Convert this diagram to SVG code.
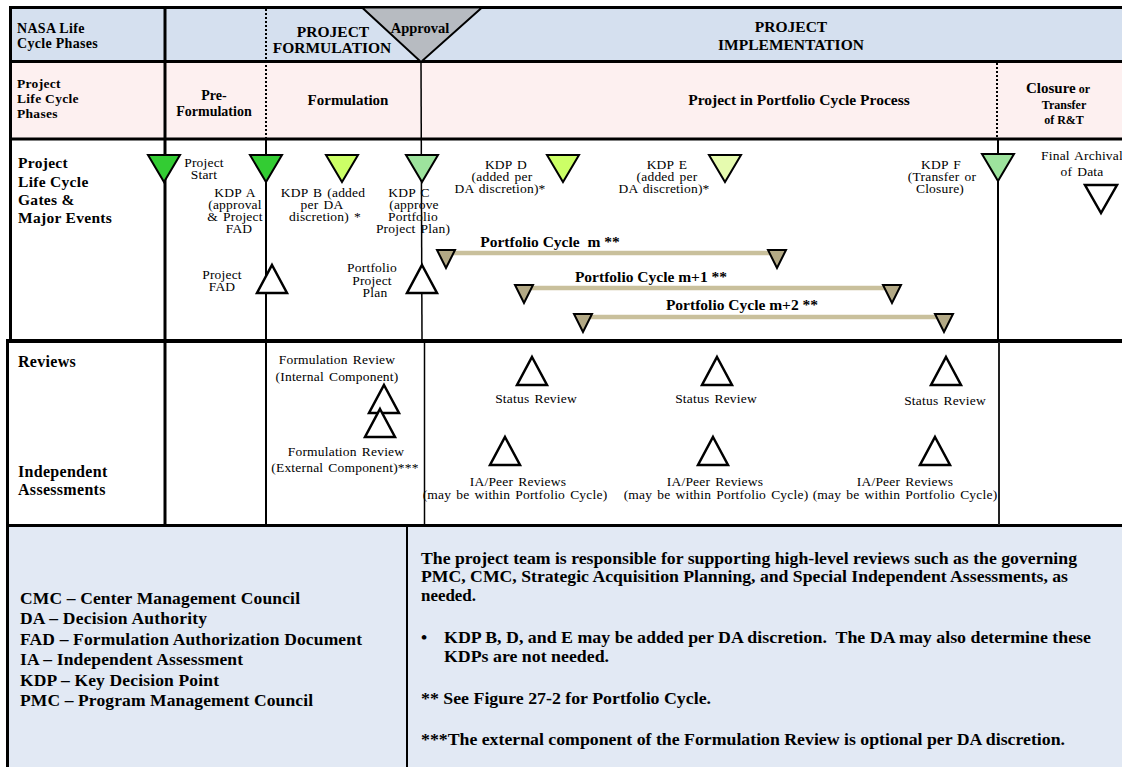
<svg xmlns="http://www.w3.org/2000/svg" width="1122" height="767" viewBox="0 0 1122 767">
  <style>
    text { font-family: "Liberation Serif", "Times New Roman", Tinos, "Nimbus Roman", "Noto Serif", serif; fill: #000; }
    .b { font-weight: bold; }
    .r { font-size: 13.5px; letter-spacing: 0.2px; word-spacing: 1.5px; }
    .c { text-anchor: middle; }
    .thick { stroke: #000; stroke-width: 3; fill: none; }
    .mid { stroke: #000; stroke-width: 2; fill: none; }
    .thin { stroke: #000; stroke-width: 1.5; fill: none; }
    .dot { stroke: #000; stroke-width: 2; stroke-dasharray: 2 2; fill: none; }
    .kdp { stroke: #000; stroke-width: 2; stroke-linejoin: miter; }
    .open { fill: #fff; stroke: #000; stroke-width: 2.5; stroke-linejoin: miter; }
    .pc { fill: #b3a985; stroke: #000; stroke-width: 2; stroke-linejoin: miter; }
    .bar { stroke: #c9c09c; stroke-width: 4.5; }
    .leg { font-size: 17.5px; }
  </style>
  <defs>
    <!-- gate marker: downward triangle, top edge centred on the origin -->
    <path id="gate" d="M-16,0 L16,0 L0,27 Z"/>
    <!-- review / event marker: upward triangle, apex on the origin -->
    <path id="event" d="M0,0 L15,28 L-15,28 Z"/>
    <!-- portfolio cycle end marker -->
    <path id="cycleEnd" d="M-9,0 L9,0 L0,18 Z"/>
  </defs>

  <rect width="1122" height="767" fill="#fff"/>

  <!-- band fills -->
  <g id="bands">
    <rect x="10" y="7" width="1112" height="55" fill="#d5e0ef"/>
    <rect x="10" y="62" width="1112" height="77" fill="#fdf0f0"/>
    <rect x="7" y="526" width="1115" height="241" fill="#e2e9f4"/>
  </g>

  <!-- table rules and phase boundaries -->
  <g id="grid">
    <line class="thick" x1="9" y1="7.5" x2="1122" y2="7.5"/>
    <line class="thick" x1="9" y1="61.5" x2="1122" y2="61.5"/>
    <line class="thick" x1="9" y1="139" x2="1122" y2="139"/>
    <line stroke="#000" stroke-width="4" x1="6" y1="341" x2="1122" y2="341"/>
    <line class="thick" x1="6" y1="525.5" x2="1122" y2="525.5"/>
    <line class="thick" x1="10.5" y1="6" x2="10.5" y2="341"/>
    <line class="thick" x1="7.5" y1="341" x2="7.5" y2="767"/>
    <line class="thick" x1="165" y1="6" x2="165" y2="525"/>
    <line class="dot" x1="266" y1="9" x2="266" y2="138"/>
    <line class="mid" x1="266" y1="140" x2="266" y2="525"/>
    <line class="thin" x1="421" y1="62" x2="422" y2="340"/>
    <line class="thin" x1="424.5" y1="342" x2="424.5" y2="525"/>
    <line class="dot" x1="997" y1="63" x2="997" y2="138"/>
    <line class="mid" x1="998" y1="140" x2="998" y2="340"/>
    <line stroke="#222" stroke-width="2" x1="999" y1="342" x2="999" y2="525"/>
    <line class="mid" x1="407" y1="526" x2="407" y2="767"/>
  </g>

  <!-- NASA life cycle phases header row -->
  <g id="nasa-phases">
    <text class="b" font-size="14" letter-spacing="0.3"><tspan x="17" y="33">NASA Life</tspan><tspan x="17" y="48">Cycle Phases</tspan></text>
    <text class="b c" font-size="15.5" x="333" y="37">PROJECT</text>
    <text class="b c" font-size="15.5" x="332" y="53">FORMULATION</text>
    <text class="b c" font-size="15.5"><tspan x="791" y="32">PROJECT</tspan><tspan x="791" y="50">IMPLEMENTATION</tspan></text>
  </g>

  <g id="approval">
    <path d="M362,7.5 L482,7.5 L421,62 Z" fill="#b7bbc1" stroke="#000" stroke-width="2"/>
    <text class="b c" font-size="14.5" x="420" y="33">Approval</text>
  </g>

  <!-- project life cycle phases row -->
  <g id="project-phases">
    <text class="b" font-size="13.5" letter-spacing="0.3"><tspan x="17" y="88">Project</tspan><tspan x="17" y="103">Life Cycle</tspan><tspan x="17" y="118">Phases</tspan></text>
    <text class="b c" font-size="14"><tspan x="214" y="100">Pre-</tspan><tspan x="214" y="116">Formulation</tspan></text>
    <text class="b c" font-size="15" x="348" y="105">Formulation</text>
    <text class="b c" font-size="15.5" x="799" y="105">Project in Portfolio Cycle Process</text>
    <text class="b c" font-size="15" x="1058" y="93">Closure<tspan font-size="12"> or</tspan></text>
    <text class="b c" font-size="12"><tspan x="1064" y="109">Transfer</tspan><tspan x="1064" y="124">of R&amp;T</tspan></text>
  </g>

  <!-- gates and major events row -->
  <g id="gates-label">
    <text class="b" font-size="15.5" letter-spacing="0.3"><tspan x="18" y="168">Project</tspan><tspan x="18" y="187">Life Cycle</tspan><tspan x="18" y="205">Gates &amp;</tspan><tspan x="18" y="223">Major Events</tspan></text>
  </g>

  <g id="project-start">
    <use href="#gate" x="164" y="155" class="kdp" fill="#33cc33"/>
    <text class="r c"><tspan x="204" y="167">Project</tspan><tspan x="204" y="179">Start</tspan></text>
  </g>

  <g id="kdp-a">
    <use href="#gate" x="266" y="155" class="kdp" fill="#33cc33"/>
    <text class="r c"><tspan x="235" y="197">KDP A</tspan><tspan x="235" y="209">(approval</tspan><tspan x="235" y="221">&amp; Project</tspan><tspan x="239" y="233">FAD</tspan></text>
  </g>

  <g id="kdp-b">
    <use href="#gate" x="342" y="155" class="kdp" fill="#ccff66"/>
    <text class="r c"><tspan x="323" y="197">KDP B (added</tspan><tspan x="322" y="209">per DA</tspan><tspan x="325" y="221">discretion) *</tspan></text>
  </g>

  <g id="kdp-c">
    <use href="#gate" x="422" y="155" class="kdp" fill="#9de39d"/>
    <text class="r c"><tspan x="409" y="197">KDP C</tspan><tspan x="414" y="209">(approve</tspan><tspan x="413" y="221">Portfolio</tspan><tspan x="413" y="233">Project Plan)</tspan></text>
  </g>

  <g id="kdp-d">
    <use href="#gate" x="563" y="155" class="kdp" fill="#ccff66"/>
    <text class="r c"><tspan x="506" y="169">KDP D</tspan><tspan x="502" y="181">(added per</tspan><tspan x="500" y="193">DA discretion)*</tspan></text>
  </g>

  <g id="kdp-e">
    <use href="#gate" x="725" y="155" class="kdp" fill="#e6fbaf"/>
    <text class="r c"><tspan x="667" y="169">KDP E</tspan><tspan x="667" y="181">(added per</tspan><tspan x="664" y="193">DA discretion)*</tspan></text>
  </g>

  <g id="kdp-f">
    <use href="#gate" x="998" y="154" class="kdp" fill="#9de39d"/>
    <text class="r c"><tspan x="941" y="169">KDP F</tspan><tspan x="942" y="181">(Transfer or</tspan><tspan x="940" y="193">Closure)</tspan></text>
  </g>

  <g id="final-archival">
    <path d="M1085,185 L1117,185 L1101,213 Z" class="open"/>
    <text class="r c"><tspan x="1082" y="160">Final Archival</tspan><tspan x="1082" y="176">of Data</tspan></text>
  </g>

  <g id="project-fad">
    <use href="#event" x="272" y="265" class="open"/>
    <text class="r c"><tspan x="222" y="279">Project</tspan><tspan x="222" y="291">FAD</tspan></text>
  </g>

  <g id="portfolio-project-plan">
    <use href="#event" x="422" y="265" class="open"/>
    <text class="r c"><tspan x="372" y="272">Portfolio</tspan><tspan x="372" y="285">Project</tspan><tspan x="375" y="297">Plan</tspan></text>
  </g>

  <!-- portfolio cycles -->
  <g id="connectors">
    <line class="bar" x1="446" y1="253" x2="777" y2="253"/>
    <line class="bar" x1="524" y1="288" x2="892" y2="288"/>
    <line class="bar" x1="583" y1="317" x2="944" y2="317"/>
  </g>

  <g id="cycle-m">
    <use href="#cycleEnd" x="446" y="250" class="pc"/>
    <use href="#cycleEnd" x="777" y="250" class="pc"/>
    <text class="b c" font-size="15.5" x="550" y="247" xml:space="preserve">Portfolio Cycle  m **</text>
  </g>

  <g id="cycle-m1">
    <use href="#cycleEnd" x="524" y="285" class="pc"/>
    <use href="#cycleEnd" x="892" y="285" class="pc"/>
    <text class="b c" font-size="15.5" x="651" y="282">Portfolio Cycle m+1 **</text>
  </g>

  <g id="cycle-m2">
    <use href="#cycleEnd" x="583" y="314" class="pc"/>
    <use href="#cycleEnd" x="944" y="314" class="pc"/>
    <text class="b c" font-size="15.5" x="742" y="310">Portfolio Cycle m+2 **</text>
  </g>

  <!-- reviews and independent assessments rows -->
  <g id="reviews-label">
    <text class="b" font-size="16" letter-spacing="0.3" x="18" y="367">Reviews</text>
    <text class="b" font-size="16" letter-spacing="0.3"><tspan x="18" y="477">Independent</tspan><tspan x="18" y="495">Assessments</tspan></text>
  </g>

  <g id="formulation-review-internal">
    <use href="#event" x="384" y="385" class="open"/>
    <text class="r c" word-spacing="3"><tspan x="337" y="364">Formulation Review</tspan><tspan x="337" y="381">(Internal Component)</tspan></text>
  </g>

  <g id="formulation-review-external">
    <use href="#event" x="380" y="409" class="open"/>
    <text class="r c" word-spacing="3"><tspan x="346" y="456">Formulation Review</tspan><tspan x="345" y="472">(External Component)***</tspan></text>
  </g>

  <g id="status-review-1">
    <use href="#event" x="532" y="357" class="open"/>
    <text class="r c" x="536" y="403">Status Review</text>
  </g>
  <g id="status-review-2">
    <use href="#event" x="717" y="357" class="open"/>
    <text class="r c" x="716" y="403">Status Review</text>
  </g>
  <g id="status-review-3">
    <use href="#event" x="946" y="357" class="open"/>
    <text class="r c" x="945" y="405">Status Review</text>
  </g>

  <g id="ia-review-1">
    <use href="#event" x="505" y="437" class="open"/>
    <text class="r c" word-spacing="4"><tspan x="518" y="486">IA/Peer Reviews</tspan><tspan x="515" y="499">(may be within Portfolio Cycle)</tspan></text>
  </g>
  <g id="ia-review-2">
    <use href="#event" x="713" y="437" class="open"/>
    <text class="r c" word-spacing="4"><tspan x="715" y="486">IA/Peer Reviews</tspan><tspan x="716" y="499">(may be within Portfolio Cycle)</tspan></text>
  </g>
  <g id="ia-review-3">
    <use href="#event" x="935" y="437" class="open"/>
    <text class="r c" word-spacing="4"><tspan x="905" y="486">IA/Peer Reviews</tspan><tspan x="905" y="499">(may be within Portfolio Cycle)</tspan></text>
  </g>

  <!-- acronym legend -->
  <g id="acronyms">
    <text class="b leg" x="20" y="604" textLength="280" lengthAdjust="spacing">CMC – Center Management Council</text>
    <text class="b leg" x="20" y="624" textLength="187" lengthAdjust="spacing">DA – Decision Authority</text>
    <text class="b leg" x="20" y="645" textLength="342" lengthAdjust="spacing">FAD – Formulation Authorization Document</text>
    <text class="b leg" x="20" y="665" textLength="223" lengthAdjust="spacing">IA – Independent Assessment</text>
    <text class="b leg" x="20" y="686" textLength="199" lengthAdjust="spacing">KDP – Key Decision Point</text>
    <text class="b leg" x="20" y="706" textLength="293" lengthAdjust="spacing">PMC – Program Management Council</text>
  </g>

  <!-- notes -->
  <g id="notes">
    <text class="b leg" x="421" y="564" textLength="656" lengthAdjust="spacingAndGlyphs">The project team is responsible for supporting high-level reviews such as the governing</text>
    <text class="b leg" x="421" y="582" textLength="647" lengthAdjust="spacingAndGlyphs">PMC, CMC, Strategic Acquisition Planning, and Special Independent Assessments, as</text>
    <text class="b leg" x="421" y="601" textLength="55" lengthAdjust="spacingAndGlyphs">needed.</text>
    <text class="b leg" x="421" y="643">•</text>
    <text class="b leg" x="444" y="643" textLength="647" lengthAdjust="spacingAndGlyphs" xml:space="preserve">KDP B, D, and E may be added per DA discretion.  The DA may also determine these</text>
    <text class="b leg" x="444" y="662" textLength="165" lengthAdjust="spacingAndGlyphs">KDPs are not needed.</text>
    <text class="b leg" x="421" y="704" textLength="290" lengthAdjust="spacingAndGlyphs">** See Figure 27-2 for Portfolio Cycle.</text>
    <text class="b leg" x="421" y="745" textLength="644" lengthAdjust="spacingAndGlyphs">***The external component of the Formulation Review is optional per DA discretion.</text>
  </g>
</svg>
